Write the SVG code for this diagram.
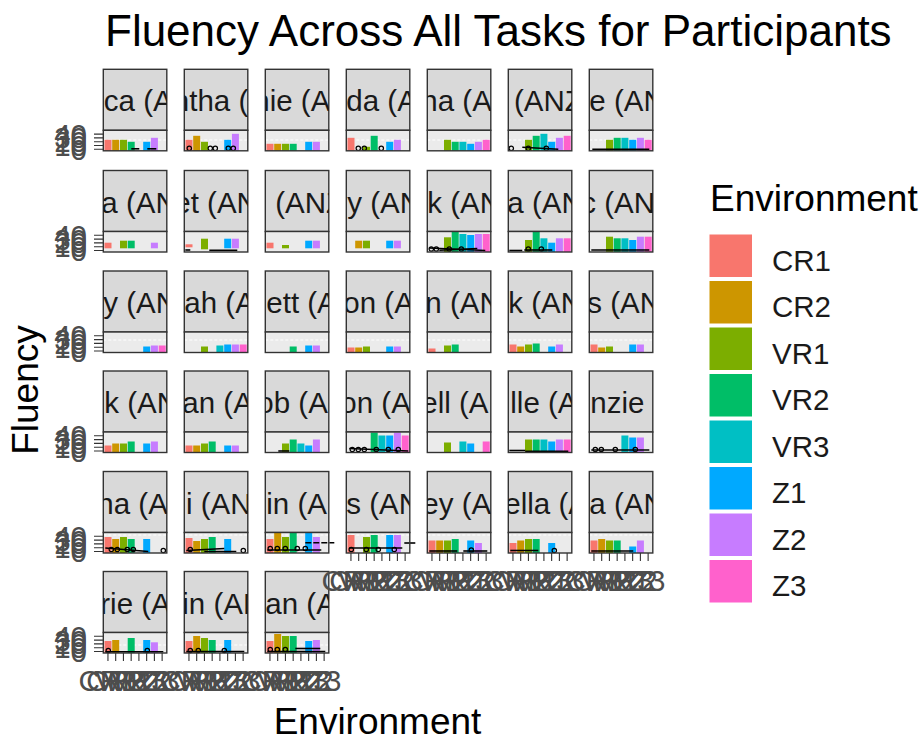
<svg xmlns="http://www.w3.org/2000/svg" width="924" height="742" viewBox="0 0 924 742">
<style>
text{font-family:"Liberation Sans",Arial,sans-serif}
.ttl{font-size:44px;fill:#000}
.axt{font-size:37px;fill:#000}
.lgt{font-size:37px;fill:#000}
.lgl{font-size:29.5px;fill:#1A1A1A}
.st{font-size:29.5px;fill:#1A1A1A}
.yl{font-size:29.5px;fill:#4D4D4D;text-anchor:end}
.xl{font-size:29.5px;fill:#4D4D4D;text-anchor:middle}
.tk{stroke:#333;stroke-width:1.1}
.sb{fill:#D9D9D9;stroke:#333;stroke-width:1.4}
.pb{fill:#EBEBEB}
.pf{fill:none;stroke:#333;stroke-width:1.4}
.hl{stroke:#fff;stroke-width:1.2;stroke-dasharray:3 2}
.pt{fill:none;stroke:#000;stroke-width:1.2}
.bl{stroke:#000;stroke-width:1.6}
.c1{fill:#F8766D}.c2{fill:#CD9600}.c3{fill:#7CAE00}.c4{fill:#00BE67}
.c5{fill:#00BFC4}.c6{fill:#00A9FF}.c7{fill:#C77CFF}.c8{fill:#FF61CC}
</style>
<defs>
<clipPath id="sc"><rect x="0" y="0" width="63.5" height="61"/></clipPath>
</defs>
<rect width="924" height="742" fill="#fff"/>
<text class="ttl" x="105" y="46">Fluency Across All Tasks for Participants</text>

<g id="panels">
<!-- Row 1 -->
<g id="p-r1c1" transform="translate(103.3,69.3)">
<rect class="sb" width="63.5" height="61"/><text class="st" x="0.5" y="42" clip-path="url(#sc)">ca (A</text>
<rect class="pb" y="61" width="63.5" height="20.5"/><line class="hl" x1="0" x2="63.5" y1="70.7" y2="70.7"/>
<rect class="c1" x="1.2" y="70.5" width="7" height="11"/><rect class="c2" x="8.9" y="70.5" width="7" height="11"/><rect class="c3" x="16.7" y="70.5" width="7" height="11"/><rect class="c4" x="24.4" y="72.5" width="7" height="9"/><rect class="c6" x="39.9" y="72.5" width="7" height="9"/><rect class="c7" x="47.6" y="68.5" width="7" height="13"/>
<line class="bl" x1="28" x2="36" y1="79.5" y2="79.5"/><line class="bl" x1="44" x2="53" y1="79.5" y2="79.5"/>
<rect class="pf" y="61" width="63.5" height="20.5"/></g>
<g id="p-r1c2" transform="translate(184.3,69.3)">
<rect class="sb" width="63.5" height="61"/><text class="st" x="-11.5" y="42" clip-path="url(#sc)">ntha (</text>
<rect class="pb" y="61" width="63.5" height="20.5"/><line class="hl" x1="0" x2="63.5" y1="70.7" y2="70.7"/>
<rect class="c1" x="1.2" y="70.5" width="7" height="11"/><rect class="c2" x="8.9" y="66.5" width="7" height="15"/><rect class="c3" x="16.7" y="72.5" width="7" height="9"/><rect class="c6" x="39.9" y="70.5" width="7" height="11"/><rect class="c7" x="47.6" y="64.5" width="7" height="17"/>
<circle class="pt" cx="5" cy="79" r="2.2"/><circle class="pt" cx="26" cy="79" r="2.2"/><circle class="pt" cx="31" cy="79" r="2.2"/><circle class="pt" cx="44" cy="79" r="2.2"/><circle class="pt" cx="49" cy="79" r="2.2"/>
<rect class="pf" y="61" width="63.5" height="20.5"/></g>
<g id="p-r1c3" transform="translate(265.3,69.3)">
<rect class="sb" width="63.5" height="61"/><text class="st" x="-12" y="42" clip-path="url(#sc)">nie (A</text>
<rect class="pb" y="61" width="63.5" height="20.5"/><line class="hl" x1="0" x2="63.5" y1="70.7" y2="70.7"/>
<rect class="c1" x="1.2" y="74.5" width="7" height="7"/><rect class="c2" x="8.9" y="74.5" width="7" height="7"/><rect class="c3" x="16.7" y="74.5" width="7" height="7"/><rect class="c4" x="24.4" y="74.5" width="7" height="7"/><rect class="c6" x="39.9" y="72.5" width="7" height="9"/><rect class="c7" x="47.6" y="72.5" width="7" height="9"/>
<rect class="pf" y="61" width="63.5" height="20.5"/></g>
<g id="p-r1c4" transform="translate(346.3,69.3)">
<rect class="sb" width="63.5" height="61"/><text class="st" x="0" y="42" clip-path="url(#sc)">da (A</text>
<rect class="pb" y="61" width="63.5" height="20.5"/><line class="hl" x1="0" x2="63.5" y1="70.7" y2="70.7"/>
<rect class="c1" x="1.2" y="68.5" width="7" height="13"/><rect class="c3" x="16.7" y="77.5" width="7" height="4"/><rect class="c4" x="24.4" y="66.5" width="7" height="15"/><rect class="c6" x="39.9" y="72.5" width="7" height="9"/><rect class="c7" x="47.6" y="70.5" width="7" height="11"/>
<circle class="pt" cx="12" cy="79" r="2.2"/><circle class="pt" cx="18" cy="79" r="2.2"/><circle class="pt" cx="35" cy="79" r="2.2"/>
<rect class="pf" y="61" width="63.5" height="20.5"/></g>
<g id="p-r1c5" transform="translate(427.3,69.3)">
<rect class="sb" width="63.5" height="61"/><text class="st" x="-6" y="42" clip-path="url(#sc)">na (A</text>
<rect class="pb" y="61" width="63.5" height="20.5"/><line class="hl" x1="0" x2="63.5" y1="70.7" y2="70.7"/>
<rect class="c3" x="16.7" y="70.5" width="7" height="11"/><rect class="c4" x="24.4" y="72.5" width="7" height="9"/><rect class="c5" x="32.1" y="72.5" width="7" height="9"/><rect class="c6" x="39.9" y="74.5" width="7" height="7"/><rect class="c7" x="47.6" y="72.5" width="7" height="9"/><rect class="c8" x="55.4" y="70.5" width="7" height="11"/>
<rect class="pf" y="61" width="63.5" height="20.5"/></g>
<g id="p-r1c6" transform="translate(508.3,69.3)">
<rect class="sb" width="63.5" height="61"/><text class="st" x="-19" y="42" clip-path="url(#sc)">a (ANZ</text>
<rect class="pb" y="61" width="63.5" height="20.5"/><line class="hl" x1="0" x2="63.5" y1="70.7" y2="70.7"/>
<rect class="c3" x="16.7" y="70.5" width="7" height="11"/><rect class="c4" x="24.4" y="66.5" width="7" height="15"/><rect class="c5" x="32.1" y="64.5" width="7" height="17"/><rect class="c6" x="39.9" y="72.5" width="7" height="9"/><rect class="c7" x="47.6" y="68.5" width="7" height="13"/><rect class="c8" x="55.4" y="66.5" width="7" height="15"/>
<circle class="pt" cx="3" cy="79" r="2.2"/><circle class="pt" cx="20" cy="79" r="2.2"/><circle class="pt" cx="38" cy="79" r="2.2"/><line class="bl" x1="14" x2="50" y1="78" y2="80"/>
<rect class="pf" y="61" width="63.5" height="20.5"/></g>
<g id="p-r1c7" transform="translate(589.3,69.3)">
<rect class="sb" width="63.5" height="61"/><text class="st" x="0" y="42" clip-path="url(#sc)">e (AN</text>
<rect class="pb" y="61" width="63.5" height="20.5"/><line class="hl" x1="0" x2="63.5" y1="70.7" y2="70.7"/>
<rect class="c3" x="16.7" y="70.5" width="7" height="11"/><rect class="c4" x="24.4" y="68.5" width="7" height="13"/><rect class="c5" x="32.1" y="68.5" width="7" height="13"/><rect class="c6" x="39.9" y="70.5" width="7" height="11"/><rect class="c7" x="47.6" y="68.5" width="7" height="13"/><rect class="c8" x="55.4" y="70.5" width="7" height="11"/>
<line class="bl" x1="3" x2="60" y1="80" y2="80"/>
<rect class="pf" y="61" width="63.5" height="20.5"/></g>

<!-- Row 2 -->
<g id="p-r2c1" transform="translate(103.3,170.5)">
<rect class="sb" width="63.5" height="61"/><text class="st" x="-2" y="42" clip-path="url(#sc)">a (AN</text>
<rect class="pb" y="61" width="63.5" height="20.5"/>
<rect class="c1" x="1.2" y="72.2" width="7" height="5.6"/><rect class="c3" x="16.7" y="70.2" width="7" height="7.6"/><rect class="c4" x="24.4" y="70.2" width="7" height="7.6"/><rect class="c7" x="47.6" y="72.2" width="7" height="5.6"/>
<rect class="pf" y="61" width="63.5" height="20.5"/></g>
<g id="p-r2c2" transform="translate(184.3,170.5)">
<rect class="sb" width="63.5" height="61"/><text class="st" x="-10" y="42" clip-path="url(#sc)">et (AN</text>
<rect class="pb" y="61" width="63.5" height="20.5"/>
<rect class="c1" x="1.2" y="73.8" width="7" height="3"/><rect class="c3" x="16.7" y="68.2" width="7" height="10.6"/><rect class="c6" x="39.9" y="68.2" width="7" height="9.6"/><rect class="c7" x="47.6" y="68.2" width="7" height="9.6"/>
<line class="bl" x1="25" x2="53" y1="79.8" y2="79.8"/><line class="bl" x1="1" x2="6" y1="79.5" y2="79.5"/>
<rect class="pf" y="61" width="63.5" height="20.5"/></g>
<g id="p-r2c3" transform="translate(265.3,170.5)">
<rect class="sb" width="63.5" height="61"/><text class="st" x="10" y="42" clip-path="url(#sc)">(ANZ</text>
<rect class="pb" y="61" width="63.5" height="20.5"/>
<rect class="c1" x="1.2" y="72.2" width="7" height="5.6"/><rect class="c3" x="16.7" y="74.5" width="7" height="3.3"/><rect class="c6" x="39.9" y="70.2" width="7" height="7.6"/><rect class="c7" x="47.6" y="70.2" width="7" height="7.6"/>
<rect class="pf" y="61" width="63.5" height="20.5"/></g>
<g id="p-r2c4" transform="translate(346.3,170.5)">
<rect class="sb" width="63.5" height="61"/><text class="st" x="1" y="42" clip-path="url(#sc)">y (AN</text>
<rect class="pb" y="61" width="63.5" height="20.5"/>
<rect class="c2" x="8.9" y="70.2" width="7" height="7.6"/><rect class="c3" x="16.7" y="70.2" width="7" height="7.6"/><rect class="c6" x="39.9" y="70.2" width="7" height="7.6"/><rect class="c7" x="47.6" y="70.2" width="7" height="7.6"/>
<rect class="pf" y="61" width="63.5" height="20.5"/></g>
<g id="p-r2c5" transform="translate(427.3,170.5)">
<rect class="sb" width="63.5" height="61"/><text class="st" x="0" y="42" clip-path="url(#sc)">k (AN</text>
<rect class="pb" y="61" width="63.5" height="20.5"/>
<rect class="c3" x="16.7" y="66.8" width="7" height="14.7"/><rect class="c4" x="24.4" y="61.2" width="7" height="20.3"/><rect class="c5" x="32.1" y="63.5" width="7" height="18"/><rect class="c6" x="39.9" y="64.5" width="7" height="17"/><rect class="c7" x="47.6" y="63.5" width="7" height="18"/><rect class="c8" x="55.4" y="63.5" width="7" height="18"/>
<circle class="pt" cx="4" cy="78.5" r="2.2"/><circle class="pt" cx="9" cy="78.5" r="2.2"/><circle class="pt" cx="22" cy="78.5" r="2.2"/><circle class="pt" cx="34" cy="78.5" r="2.2"/><line class="bl" x1="2" x2="58" y1="77.5" y2="80"/><line class="bl" x1="12" x2="50" y1="79.8" y2="78"/>
<rect class="pf" y="61" width="63.5" height="20.5"/></g>
<g id="p-r2c6" transform="translate(508.3,170.5)">
<rect class="sb" width="63.5" height="61"/><text class="st" x="-1" y="42" clip-path="url(#sc)">a (AN</text>
<rect class="pb" y="61" width="63.5" height="20.5"/>
<rect class="c3" x="16.7" y="69.5" width="7" height="12"/><rect class="c4" x="24.4" y="61.2" width="7" height="20.3"/><rect class="c5" x="32.1" y="67.8" width="7" height="13.7"/><rect class="c6" x="39.9" y="72.2" width="7" height="9.3"/><rect class="c7" x="47.6" y="67.8" width="7" height="13.7"/><rect class="c8" x="55.4" y="67.8" width="7" height="13.7"/>
<circle class="pt" cx="20" cy="78.5" r="2.2"/><circle class="pt" cx="33" cy="78.5" r="2.2"/><line class="bl" x1="1" x2="14" y1="80" y2="80"/><line class="bl" x1="16" x2="44" y1="79.5" y2="79.5"/>
<rect class="pf" y="61" width="63.5" height="20.5"/></g>
<g id="p-r2c7" transform="translate(589.3,170.5)">
<rect class="sb" width="63.5" height="61"/><text class="st" x="-8" y="42" clip-path="url(#sc)">c (AN</text>
<rect class="pb" y="61" width="63.5" height="20.5"/>
<rect class="c3" x="16.7" y="66.2" width="7" height="15.3"/><rect class="c4" x="24.4" y="67.8" width="7" height="13.7"/><rect class="c5" x="32.1" y="67.8" width="7" height="13.7"/><rect class="c6" x="39.9" y="69.5" width="7" height="12"/><rect class="c7" x="47.6" y="66.2" width="7" height="15.3"/><rect class="c8" x="55.4" y="66.2" width="7" height="15.3"/>
<line class="bl" x1="2" x2="60" y1="79.5" y2="79.5"/>
<rect class="pf" y="61" width="63.5" height="20.5"/></g>

<!-- Row 3 -->
<g id="p-r3c1" transform="translate(103.3,271)">
<rect class="sb" width="63.5" height="61"/><text class="st" x="0" y="42" clip-path="url(#sc)">y (AN</text>
<rect class="pb" y="61" width="63.5" height="20.5"/><line class="hl" x1="0" x2="63.5" y1="69" y2="69"/>
<rect class="c6" x="39.9" y="75.5" width="7" height="6"/><rect class="c7" x="47.6" y="74.5" width="7" height="7"/><rect class="c8" x="55.4" y="74.5" width="7" height="7"/>
<rect class="pf" y="61" width="63.5" height="20.5"/></g>
<g id="p-r3c2" transform="translate(184.3,271)">
<rect class="sb" width="63.5" height="61"/><text class="st" x="0" y="42" clip-path="url(#sc)">ah (A</text>
<rect class="pb" y="61" width="63.5" height="20.5"/><line class="hl" x1="0" x2="63.5" y1="69" y2="69"/>
<rect class="c3" x="16.7" y="75.5" width="7" height="6"/><rect class="c5" x="32.1" y="74.5" width="7" height="7"/><rect class="c6" x="39.9" y="73.5" width="7" height="8"/><rect class="c7" x="47.6" y="73.5" width="7" height="8"/><rect class="c8" x="55.4" y="73.5" width="7" height="8"/>
<rect class="pf" y="61" width="63.5" height="20.5"/></g>
<g id="p-r3c3" transform="translate(265.3,271)">
<rect class="sb" width="63.5" height="61"/><text class="st" x="1" y="42" clip-path="url(#sc)">ett (A</text>
<rect class="pb" y="61" width="63.5" height="20.5"/><line class="hl" x1="0" x2="63.5" y1="69" y2="69"/>
<rect class="c4" x="24.4" y="75.5" width="7" height="6"/><rect class="c6" x="39.9" y="74.5" width="7" height="7"/><rect class="c7" x="47.6" y="74.5" width="7" height="7"/>
<rect class="pf" y="61" width="63.5" height="20.5"/></g>
<g id="p-r3c4" transform="translate(346.3,271)">
<rect class="sb" width="63.5" height="61"/><text class="st" x="-3" y="42" clip-path="url(#sc)">on (A</text>
<rect class="pb" y="61" width="63.5" height="20.5"/><line class="hl" x1="0" x2="63.5" y1="69" y2="69"/>
<rect class="c1" x="1.2" y="76.5" width="7" height="5"/><rect class="c2" x="8.9" y="76.5" width="7" height="5"/><rect class="c3" x="16.7" y="75.5" width="7" height="6"/><rect class="c6" x="39.9" y="75.5" width="7" height="6"/><rect class="c7" x="47.6" y="75.5" width="7" height="6"/>
<rect class="pf" y="61" width="63.5" height="20.5"/></g>
<g id="p-r3c5" transform="translate(427.3,271)">
<rect class="sb" width="63.5" height="61"/><text class="st" x="-2" y="42" clip-path="url(#sc)">n (AN</text>
<rect class="pb" y="61" width="63.5" height="20.5"/><line class="hl" x1="0" x2="63.5" y1="69" y2="69"/>
<rect class="c1" x="1.2" y="77.5" width="7" height="4"/><rect class="c3" x="16.7" y="74.5" width="7" height="7"/><rect class="c4" x="24.4" y="73.5" width="7" height="8"/>
<rect class="pf" y="61" width="63.5" height="20.5"/></g>
<g id="p-r3c6" transform="translate(508.3,271)">
<rect class="sb" width="63.5" height="61"/><text class="st" x="0" y="42" clip-path="url(#sc)">k (AN</text>
<rect class="pb" y="61" width="63.5" height="20.5"/><line class="hl" x1="0" x2="63.5" y1="69" y2="69"/>
<rect class="c1" x="1.2" y="73.5" width="7" height="8"/><rect class="c2" x="8.9" y="75.5" width="7" height="6"/><rect class="c3" x="16.7" y="73.5" width="7" height="8"/><rect class="c4" x="24.4" y="72.5" width="7" height="9"/><rect class="c6" x="39.9" y="75.5" width="7" height="6"/><rect class="c7" x="47.6" y="73.5" width="7" height="8"/>
<rect class="pf" y="61" width="63.5" height="20.5"/></g>
<g id="p-r3c7" transform="translate(589.3,271)">
<rect class="sb" width="63.5" height="61"/><text class="st" x="-2" y="42" clip-path="url(#sc)">s (AN</text>
<rect class="pb" y="61" width="63.5" height="20.5"/><line class="hl" x1="0" x2="63.5" y1="69" y2="69"/>
<rect class="c1" x="1.2" y="73.5" width="7" height="8"/><rect class="c2" x="8.9" y="76.5" width="7" height="5"/><rect class="c3" x="16.7" y="75.5" width="7" height="6"/><rect class="c6" x="39.9" y="73.5" width="7" height="8"/><rect class="c7" x="47.6" y="73.5" width="7" height="8"/>
<rect class="pf" y="61" width="63.5" height="20.5"/></g>

<!-- Row 4 -->
<g id="p-r4c1" transform="translate(103.3,371)">
<rect class="sb" width="63.5" height="61"/><text class="st" x="1" y="42" clip-path="url(#sc)">k (AN</text>
<rect class="pb" y="61" width="63.5" height="20.5"/>
<rect class="c1" x="1.2" y="74.5" width="7" height="7"/><rect class="c2" x="8.9" y="72.5" width="7" height="9"/><rect class="c3" x="16.7" y="72.5" width="7" height="9"/><rect class="c4" x="24.4" y="70.5" width="7" height="11"/><rect class="c6" x="39.9" y="72.5" width="7" height="9"/><rect class="c7" x="47.6" y="70.5" width="7" height="11"/>
<rect class="pf" y="61" width="63.5" height="20.5"/></g>
<g id="p-r4c2" transform="translate(184.3,371)">
<rect class="sb" width="63.5" height="61"/><text class="st" x="-2" y="42" clip-path="url(#sc)">an (A</text>
<rect class="pb" y="61" width="63.5" height="20.5"/>
<rect class="c1" x="1.2" y="74.5" width="7" height="7"/><rect class="c2" x="8.9" y="74.5" width="7" height="7"/><rect class="c3" x="16.7" y="72.5" width="7" height="9"/><rect class="c4" x="24.4" y="70.5" width="7" height="11"/><rect class="c6" x="39.9" y="74.5" width="7" height="7"/><rect class="c7" x="47.6" y="74.5" width="7" height="7"/>
<rect class="pf" y="61" width="63.5" height="20.5"/></g>
<g id="p-r4c3" transform="translate(265.3,371)">
<rect class="sb" width="63.5" height="61"/><text class="st" x="-8" y="42" clip-path="url(#sc)">ob (AN</text>
<rect class="pb" y="61" width="63.5" height="20.5"/>
<rect class="c3" x="16.7" y="72.5" width="7" height="9"/><rect class="c4" x="24.4" y="68.5" width="7" height="13"/><rect class="c5" x="32.1" y="72.5" width="7" height="9"/><rect class="c6" x="39.9" y="74.5" width="7" height="7"/><rect class="c7" x="47.6" y="68.5" width="7" height="13"/>
<line class="bl" x1="13" x2="24" y1="80" y2="80"/>
<rect class="pf" y="61" width="63.5" height="20.5"/></g>
<g id="p-r4c4" transform="translate(346.3,371)">
<rect class="sb" width="63.5" height="61"/><text class="st" x="-6" y="42" clip-path="url(#sc)">on (A</text>
<rect class="pb" y="61" width="63.5" height="20.5"/>
<rect class="c4" x="24.4" y="61.5" width="7" height="20"/><rect class="c5" x="32.1" y="64.5" width="7" height="17"/><rect class="c6" x="39.9" y="64.5" width="7" height="17"/><rect class="c7" x="47.6" y="61.5" width="7" height="20"/><rect class="c8" x="55.4" y="64.5" width="7" height="17"/>
<circle class="pt" cx="6" cy="78.5" r="2.2"/><circle class="pt" cx="12" cy="78.5" r="2.2"/><circle class="pt" cx="18" cy="78.5" r="2.2"/><circle class="pt" cx="30" cy="78.5" r="2.2"/><circle class="pt" cx="42" cy="78.5" r="2.2"/><circle class="pt" cx="52" cy="78.5" r="2.2"/><line class="bl" x1="3" x2="62" y1="77.5" y2="80"/>
<rect class="pf" y="61" width="63.5" height="20.5"/></g>
<g id="p-r4c5" transform="translate(427.3,371)">
<rect class="sb" width="63.5" height="61"/><text class="st" x="-6" y="42" clip-path="url(#sc)">ell (A</text>
<rect class="pb" y="61" width="63.5" height="20.5"/>
<rect class="c3" x="16.7" y="71.5" width="7" height="10"/><rect class="c5" x="32.1" y="70.5" width="7" height="11"/><rect class="c6" x="39.9" y="72.5" width="7" height="9"/><rect class="c8" x="55.4" y="70.5" width="7" height="11"/>
<rect class="pf" y="61" width="63.5" height="20.5"/></g>
<g id="p-r4c6" transform="translate(508.3,371)">
<rect class="sb" width="63.5" height="61"/><text class="st" x="2" y="42" clip-path="url(#sc)">lle (A</text>
<rect class="pb" y="61" width="63.5" height="20.5"/>
<rect class="c3" x="16.7" y="68.5" width="7" height="13"/><rect class="c4" x="24.4" y="68.5" width="7" height="13"/><rect class="c5" x="32.1" y="68.5" width="7" height="13"/><rect class="c6" x="39.9" y="70.5" width="7" height="11"/><rect class="c7" x="47.6" y="68.5" width="7" height="13"/><rect class="c8" x="55.4" y="68.5" width="7" height="13"/>
<line class="bl" x1="1" x2="17" y1="79.5" y2="79.5"/><line class="bl" x1="17" x2="60" y1="80.2" y2="80.2"/>
<rect class="pf" y="61" width="63.5" height="20.5"/></g>
<g id="p-r4c7" transform="translate(589.3,371)">
<rect class="sb" width="63.5" height="61"/><text class="st" x="1" y="42" clip-path="url(#sc)">nzie (</text>
<rect class="pb" y="61" width="63.5" height="20.5"/>
<rect class="c5" x="32.1" y="64.5" width="7" height="17"/><rect class="c6" x="39.9" y="66.5" width="7" height="15"/><rect class="c7" x="47.6" y="66.5" width="7" height="15"/>
<circle class="pt" cx="6" cy="78.5" r="2.2"/><circle class="pt" cx="12" cy="78.5" r="2.2"/><circle class="pt" cx="26" cy="78.5" r="2.2"/><circle class="pt" cx="46" cy="78.5" r="2.2"/><line class="bl" x1="2" x2="60" y1="79" y2="79"/>
<rect class="pf" y="61" width="63.5" height="20.5"/></g>

<!-- Row 5 -->
<g id="p-r5c1" transform="translate(103.3,471.5)">
<rect class="sb" width="63.5" height="61"/><text class="st" x="-6" y="42" clip-path="url(#sc)">na (AN</text>
<rect class="pb" y="61" width="63.5" height="20.5"/><line class="hl" x1="0" x2="63.5" y1="63.5" y2="63.5"/>
<rect class="c1" x="1.2" y="65.5" width="7" height="16"/><rect class="c2" x="8.9" y="67.5" width="7" height="14"/><rect class="c3" x="16.7" y="65.5" width="7" height="16"/><rect class="c4" x="24.4" y="67.5" width="7" height="14"/><rect class="c6" x="39.9" y="67.5" width="7" height="14"/>
<circle class="pt" cx="8" cy="78" r="2.2"/><circle class="pt" cx="14" cy="78" r="2.2"/><circle class="pt" cx="24" cy="78" r="2.2"/><circle class="pt" cx="30" cy="78" r="2.2"/><circle class="pt" cx="60" cy="79" r="2.2"/><line class="bl" x1="2" x2="45" y1="76.5" y2="80"/>
<rect class="pf" y="61" width="63.5" height="20.5"/></g>
<g id="p-r5c2" transform="translate(184.3,471.5)">
<rect class="sb" width="63.5" height="61"/><text class="st" x="1.7" y="42" clip-path="url(#sc)">i (AN</text>
<rect class="pb" y="61" width="63.5" height="20.5"/><line class="hl" x1="0" x2="63.5" y1="63.5" y2="63.5"/>
<rect class="c1" x="1.2" y="66.5" width="7" height="15"/><rect class="c2" x="8.9" y="69.5" width="7" height="12"/><rect class="c3" x="16.7" y="67.5" width="7" height="14"/><rect class="c4" x="24.4" y="65.5" width="7" height="16"/><rect class="c6" x="39.9" y="67.5" width="7" height="14"/>
<circle class="pt" cx="6" cy="78" r="2.2"/><circle class="pt" cx="59" cy="79" r="2.2"/><line class="bl" x1="2" x2="40" y1="79" y2="77"/><line class="bl" x1="20" x2="52" y1="80" y2="80"/>
<rect class="pf" y="61" width="63.5" height="20.5"/></g>
<g id="p-r5c3" transform="translate(265.3,471.5)">
<rect class="sb" width="63.5" height="61"/><text class="st" x="1" y="42" clip-path="url(#sc)">in (AN</text>
<rect class="pb" y="61" width="63.5" height="20.5"/><line class="hl" x1="0" x2="63.5" y1="63.5" y2="63.5"/>
<rect class="c1" x="1.2" y="67.5" width="7" height="14"/><rect class="c2" x="8.9" y="61.5" width="7" height="20"/><rect class="c3" x="16.7" y="65.5" width="7" height="16"/><rect class="c4" x="24.4" y="61" width="7" height="20.5"/><rect class="c6" x="39.9" y="61" width="7" height="20.5"/><rect class="c7" x="47.6" y="65.5" width="7" height="16"/>
<circle class="pt" cx="5" cy="77" r="2.2"/><circle class="pt" cx="12" cy="77" r="2.2"/><circle class="pt" cx="20" cy="77" r="2.2"/><circle class="pt" cx="32" cy="77" r="2.2"/><circle class="pt" cx="40" cy="77" r="2.2"/><line class="bl" x1="2" x2="56" y1="78.5" y2="78.5"/><line class="bl" x1="40" x2="69" y1="71.2" y2="71.2" stroke-dasharray="6 2"/>
<rect class="pf" y="61" width="63.5" height="20.5"/></g>
<g id="p-r5c4" transform="translate(346.3,471.5)">
<rect class="sb" width="63.5" height="61"/><text class="st" x="0" y="42" clip-path="url(#sc)">s (AN</text>
<rect class="pb" y="61" width="63.5" height="20.5"/><line class="hl" x1="0" x2="63.5" y1="63.5" y2="63.5"/>
<rect class="c1" x="1.2" y="63.5" width="7" height="18"/><rect class="c3" x="16.7" y="65.5" width="7" height="16"/><rect class="c4" x="24.4" y="63.5" width="7" height="18"/><rect class="c6" x="39.9" y="63.5" width="7" height="18"/><rect class="c7" x="47.6" y="63.5" width="7" height="18"/>
<circle class="pt" cx="5" cy="78" r="2.2"/><circle class="pt" cx="20" cy="78" r="2.2"/><circle class="pt" cx="32" cy="78" r="2.2"/><circle class="pt" cx="48" cy="78" r="2.2"/><line class="bl" x1="3" x2="56" y1="76.5" y2="76.5"/><line class="bl" x1="58" x2="69" y1="71.5" y2="71.5"/>
<rect class="pf" y="61" width="63.5" height="20.5"/></g>
<g id="p-r5c5" transform="translate(427.3,471.5)">
<rect class="sb" width="63.5" height="61"/><text class="st" x="-5" y="42" clip-path="url(#sc)">ey (A</text>
<rect class="pb" y="61" width="63.5" height="20.5"/><line class="hl" x1="0" x2="63.5" y1="63.5" y2="63.5"/>
<rect class="c1" x="1.2" y="69" width="7" height="12.5"/><rect class="c2" x="8.9" y="69" width="7" height="12.5"/><rect class="c3" x="16.7" y="69" width="7" height="12.5"/><rect class="c4" x="24.4" y="67.5" width="7" height="14"/><rect class="c6" x="39.9" y="69" width="7" height="12.5"/><rect class="c7" x="47.6" y="71.5" width="7" height="10"/>
<line class="bl" x1="2" x2="30" y1="79.5" y2="79.5"/><line class="bl" x1="36" x2="60" y1="79.5" y2="79.5"/><circle class="pt" cx="44" cy="78.5" r="2.2"/>
<rect class="pf" y="61" width="63.5" height="20.5"/></g>
<g id="p-r5c6" transform="translate(508.3,471.5)">
<rect class="sb" width="63.5" height="61"/><text class="st" x="-4" y="42" clip-path="url(#sc)">ella (A</text>
<rect class="pb" y="61" width="63.5" height="20.5"/><line class="hl" x1="0" x2="63.5" y1="63.5" y2="63.5"/>
<rect class="c1" x="1.2" y="71.5" width="7" height="10"/><rect class="c2" x="8.9" y="69" width="7" height="12.5"/><rect class="c3" x="16.7" y="67.5" width="7" height="14"/><rect class="c4" x="24.4" y="67.5" width="7" height="14"/><rect class="c6" x="39.9" y="71.5" width="7" height="10"/>
<line class="bl" x1="2" x2="30" y1="79" y2="79"/><circle class="pt" cx="46" cy="79" r="2.2"/>
<rect class="pf" y="61" width="63.5" height="20.5"/></g>
<g id="p-r5c7" transform="translate(589.3,471.5)">
<rect class="sb" width="63.5" height="61"/><text class="st" x="0" y="42" clip-path="url(#sc)">a (AN</text>
<rect class="pb" y="61" width="63.5" height="20.5"/><line class="hl" x1="0" x2="63.5" y1="63.5" y2="63.5"/>
<rect class="c1" x="1.2" y="69" width="7" height="12.5"/><rect class="c2" x="8.9" y="67.5" width="7" height="14"/><rect class="c3" x="16.7" y="69" width="7" height="12.5"/><rect class="c4" x="24.4" y="69" width="7" height="12.5"/><rect class="c6" x="39.9" y="75" width="7" height="6.5"/><rect class="c7" x="47.6" y="69" width="7" height="12.5"/>
<line class="bl" x1="2" x2="44" y1="79.5" y2="79.5"/>
<rect class="pf" y="61" width="63.5" height="20.5"/></g>

<!-- Row 6 -->
<g id="p-r6c1" transform="translate(103.3,571.5)">
<rect class="sb" width="63.5" height="61"/><text class="st" x="-3" y="42" clip-path="url(#sc)">rie (A</text>
<rect class="pb" y="61" width="63.5" height="20.5"/><line class="hl" x1="0" x2="63.5" y1="73.5" y2="73.5"/>
<rect class="c1" x="1.2" y="69.5" width="7" height="12"/><rect class="c2" x="8.9" y="68.5" width="7" height="13"/><rect class="c4" x="24.4" y="66.5" width="7" height="15"/><rect class="c6" x="39.9" y="68.5" width="7" height="13"/><rect class="c7" x="47.6" y="70.8" width="7" height="10.7"/>
<circle class="pt" cx="5" cy="79" r="2.2"/><circle class="pt" cx="44" cy="79" r="2.2"/><line class="bl" x1="2" x2="60" y1="80.2" y2="80.2"/>
<rect class="pf" y="61" width="63.5" height="20.5"/></g>
<g id="p-r6c2" transform="translate(184.3,571.5)">
<rect class="sb" width="63.5" height="61"/><text class="st" x="-2" y="42" clip-path="url(#sc)">in (AN</text>
<rect class="pb" y="61" width="63.5" height="20.5"/><line class="hl" x1="0" x2="63.5" y1="73.5" y2="73.5"/>
<rect class="c1" x="1.2" y="69.5" width="7" height="12"/><rect class="c2" x="8.9" y="64.5" width="7" height="17"/><rect class="c3" x="16.7" y="66.5" width="7" height="15"/><rect class="c4" x="24.4" y="68.5" width="7" height="13"/><rect class="c6" x="39.9" y="68.5" width="7" height="13"/>
<circle class="pt" cx="6" cy="79" r="2.2"/><circle class="pt" cx="14" cy="79" r="2.2"/><circle class="pt" cx="40" cy="79" r="2.2"/><line class="bl" x1="2" x2="60" y1="80" y2="80"/>
<rect class="pf" y="61" width="63.5" height="20.5"/></g>
<g id="p-r6c3" transform="translate(265.3,571.5)">
<rect class="sb" width="63.5" height="61"/><text class="st" x="0" y="42" clip-path="url(#sc)">an (A</text>
<rect class="pb" y="61" width="63.5" height="20.5"/><line class="hl" x1="0" x2="63.5" y1="73.5" y2="73.5"/>
<rect class="c1" x="1.2" y="69.5" width="7" height="12"/><rect class="c2" x="8.9" y="62.5" width="7" height="19"/><rect class="c3" x="16.7" y="64.5" width="7" height="17"/><rect class="c4" x="24.4" y="64.5" width="7" height="17"/><rect class="c6" x="39.9" y="69.5" width="7" height="12"/><rect class="c7" x="47.6" y="68.5" width="7" height="13"/>
<circle class="pt" cx="5" cy="78" r="2.2"/><circle class="pt" cx="12" cy="78" r="2.2"/><circle class="pt" cx="20" cy="78" r="2.2"/><line class="bl" x1="30" x2="55" y1="77" y2="77"/><line class="bl" x1="2" x2="60" y1="80" y2="80"/>
<rect class="pf" y="61" width="63.5" height="20.5"/></g>
</g>

<g id="y-axes">
<g transform="translate(0,150.8)"><path class="tk" d="M94 -1.5H103.3M94 -5.3H103.3M94 -9.1H103.3M94 -12.9H103.3M94 -16.7H103.3"/><text class="yl" x="87" y="9">0</text><text class="yl" x="87" y="5.2">10</text><text class="yl" x="87" y="1.4">20</text><text class="yl" x="87" y="-2.4">30</text><text class="yl" x="87" y="-6.2">40</text></g>
<g transform="translate(0,252)"><path class="tk" d="M94 -1.5H103.3M94 -5.3H103.3M94 -9.1H103.3M94 -12.9H103.3M94 -16.7H103.3"/><text class="yl" x="87" y="9">0</text><text class="yl" x="87" y="5.2">10</text><text class="yl" x="87" y="1.4">20</text><text class="yl" x="87" y="-2.4">30</text><text class="yl" x="87" y="-6.2">40</text></g>
<g transform="translate(0,352.5)"><path class="tk" d="M94 -1.5H103.3M94 -5.3H103.3M94 -9.1H103.3M94 -12.9H103.3M94 -16.7H103.3"/><text class="yl" x="87" y="9">0</text><text class="yl" x="87" y="5.2">10</text><text class="yl" x="87" y="1.4">20</text><text class="yl" x="87" y="-2.4">30</text><text class="yl" x="87" y="-6.2">40</text></g>
<g transform="translate(0,452.5)"><path class="tk" d="M94 -1.5H103.3M94 -5.3H103.3M94 -9.1H103.3M94 -12.9H103.3M94 -16.7H103.3"/><text class="yl" x="87" y="9">0</text><text class="yl" x="87" y="5.2">10</text><text class="yl" x="87" y="1.4">20</text><text class="yl" x="87" y="-2.4">30</text><text class="yl" x="87" y="-6.2">40</text></g>
<g transform="translate(0,553)"><path class="tk" d="M94 -1.5H103.3M94 -5.3H103.3M94 -9.1H103.3M94 -12.9H103.3M94 -16.7H103.3"/><text class="yl" x="87" y="9">0</text><text class="yl" x="87" y="5.2">10</text><text class="yl" x="87" y="1.4">20</text><text class="yl" x="87" y="-2.4">30</text><text class="yl" x="87" y="-6.2">40</text></g>
<g transform="translate(0,653)"><path class="tk" d="M94 -1.5H103.3M94 -5.3H103.3M94 -9.1H103.3M94 -12.9H103.3M94 -16.7H103.3"/><text class="yl" x="87" y="9">0</text><text class="yl" x="87" y="5.2">10</text><text class="yl" x="87" y="1.4">20</text><text class="yl" x="87" y="-2.4">30</text><text class="yl" x="87" y="-6.2">40</text></g>
</g>

<g id="x-axes">
<g transform="translate(346.3,553)"><path class="tk" d="M4.65 0v8M12.39 0v8M20.13 0v8M27.87 0v8M35.61 0v8M43.35 0v8M51.09 0v8M58.83 0v8"/><text class="xl" x="4.65" y="38">CR1</text><text class="xl" x="12.39" y="38">CR2</text><text class="xl" x="20.13" y="38">VR1</text><text class="xl" x="27.87" y="38">VR2</text><text class="xl" x="35.61" y="38">VR3</text><text class="xl" x="43.35" y="38">Z1</text><text class="xl" x="51.09" y="38">Z2</text><text class="xl" x="58.83" y="38">Z3</text></g>
<g transform="translate(427.3,553)"><path class="tk" d="M4.65 0v8M12.39 0v8M20.13 0v8M27.87 0v8M35.61 0v8M43.35 0v8M51.09 0v8M58.83 0v8"/><text class="xl" x="4.65" y="38">CR1</text><text class="xl" x="12.39" y="38">CR2</text><text class="xl" x="20.13" y="38">VR1</text><text class="xl" x="27.87" y="38">VR2</text><text class="xl" x="35.61" y="38">VR3</text><text class="xl" x="43.35" y="38">Z1</text><text class="xl" x="51.09" y="38">Z2</text><text class="xl" x="58.83" y="38">Z3</text></g>
<g transform="translate(508.3,553)"><path class="tk" d="M4.65 0v8M12.39 0v8M20.13 0v8M27.87 0v8M35.61 0v8M43.35 0v8M51.09 0v8M58.83 0v8"/><text class="xl" x="4.65" y="38">CR1</text><text class="xl" x="12.39" y="38">CR2</text><text class="xl" x="20.13" y="38">VR1</text><text class="xl" x="27.87" y="38">VR2</text><text class="xl" x="35.61" y="38">VR3</text><text class="xl" x="43.35" y="38">Z1</text><text class="xl" x="51.09" y="38">Z2</text><text class="xl" x="58.83" y="38">Z3</text></g>
<g transform="translate(589.3,553)"><path class="tk" d="M4.65 0v8M12.39 0v8M20.13 0v8M27.87 0v8M35.61 0v8M43.35 0v8M51.09 0v8M58.83 0v8"/><text class="xl" x="4.65" y="38">CR1</text><text class="xl" x="12.39" y="38">CR2</text><text class="xl" x="20.13" y="38">VR1</text><text class="xl" x="27.87" y="38">VR2</text><text class="xl" x="35.61" y="38">VR3</text><text class="xl" x="43.35" y="38">Z1</text><text class="xl" x="51.09" y="38">Z2</text><text class="xl" x="58.83" y="38">Z3</text></g>
<g transform="translate(103.3,653)"><path class="tk" d="M4.65 0v8M12.39 0v8M20.13 0v8M27.87 0v8M35.61 0v8M43.35 0v8M51.09 0v8M58.83 0v8"/><text class="xl" x="4.65" y="38">CR1</text><text class="xl" x="12.39" y="38">CR2</text><text class="xl" x="20.13" y="38">VR1</text><text class="xl" x="27.87" y="38">VR2</text><text class="xl" x="35.61" y="38">VR3</text><text class="xl" x="43.35" y="38">Z1</text><text class="xl" x="51.09" y="38">Z2</text><text class="xl" x="58.83" y="38">Z3</text></g>
<g transform="translate(184.3,653)"><path class="tk" d="M4.65 0v8M12.39 0v8M20.13 0v8M27.87 0v8M35.61 0v8M43.35 0v8M51.09 0v8M58.83 0v8"/><text class="xl" x="4.65" y="38">CR1</text><text class="xl" x="12.39" y="38">CR2</text><text class="xl" x="20.13" y="38">VR1</text><text class="xl" x="27.87" y="38">VR2</text><text class="xl" x="35.61" y="38">VR3</text><text class="xl" x="43.35" y="38">Z1</text><text class="xl" x="51.09" y="38">Z2</text><text class="xl" x="58.83" y="38">Z3</text></g>
<g transform="translate(265.3,653)"><path class="tk" d="M4.65 0v8M12.39 0v8M20.13 0v8M27.87 0v8M35.61 0v8M43.35 0v8M51.09 0v8M58.83 0v8"/><text class="xl" x="4.65" y="38">CR1</text><text class="xl" x="12.39" y="38">CR2</text><text class="xl" x="20.13" y="38">VR1</text><text class="xl" x="27.87" y="38">VR2</text><text class="xl" x="35.61" y="38">VR3</text><text class="xl" x="43.35" y="38">Z1</text><text class="xl" x="51.09" y="38">Z2</text><text class="xl" x="58.83" y="38">Z3</text></g>
</g>

<text class="axt" x="377.5" y="734" text-anchor="middle">Environment</text>
<text class="axt" transform="translate(38,390) rotate(-90)" text-anchor="middle">Fluency</text>

<g id="legend">
<text class="lgt" x="710" y="211">Environment</text>
<rect class="c1" x="709.5" y="234.5" width="42.5" height="42.5"/><text class="lgl" x="772" y="270.7">CR1</text>
<rect class="c2" x="709.5" y="281" width="42.5" height="42.5"/><text class="lgl" x="772" y="317.2">CR2</text>
<rect class="c3" x="709.5" y="327.5" width="42.5" height="42.5"/><text class="lgl" x="772" y="363.7">VR1</text>
<rect class="c4" x="709.5" y="374" width="42.5" height="42.5"/><text class="lgl" x="772" y="410.2">VR2</text>
<rect class="c5" x="709.5" y="420.5" width="42.5" height="42.5"/><text class="lgl" x="772" y="456.7">VR3</text>
<rect class="c6" x="709.5" y="467" width="42.5" height="42.5"/><text class="lgl" x="772" y="503.2">Z1</text>
<rect class="c7" x="709.5" y="513.5" width="42.5" height="42.5"/><text class="lgl" x="772" y="549.7">Z2</text>
<rect class="c8" x="709.5" y="560" width="42.5" height="42.5"/><text class="lgl" x="772" y="596.2">Z3</text>
</g>
</svg>
